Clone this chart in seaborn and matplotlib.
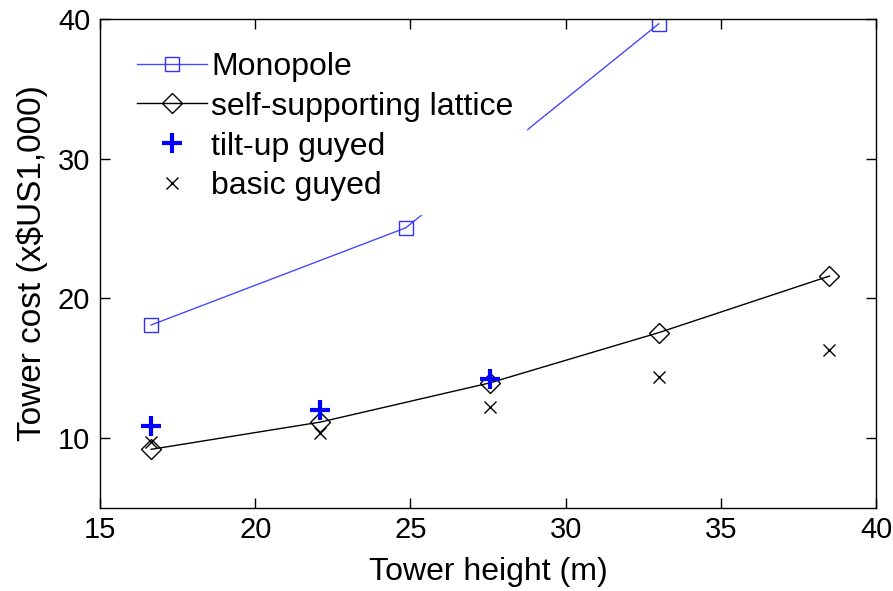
import numpy as np
import pandas as pd
import seaborn as sns
import matplotlib.pyplot as plt
from matplotlib.lines import Line2D

plt.rcParams['font.family'] = ['Liberation Sans', 'DejaVu Sans']

# data
mono_h = [16.65, 24.85, 33.0]
mono_cost = [18.1, 25.05, 39.65]
lattice_h = [16.65, 22.1, 27.55, 33.0, 38.5]
lattice_cost = [9.2, 11.15, 13.95, 17.55, 21.6]
tilt_h = [16.65, 22.1, 27.55]
tilt_cost = [10.85, 12.05, 14.2]
basic_h = [16.65, 22.1, 27.55, 33.0, 38.5]
basic_cost = [9.7, 10.35, 12.2, 14.4, 16.3]

blue_line = '#4848ff'

fig = plt.figure(figsize=(8.93, 5.91), dpi=100)
ax = fig.add_axes([0.112, 0.1404, 0.869, 0.8276])

sns.lineplot(x=mono_h, y=mono_cost, ax=ax, color=blue_line, lw=1,
             marker='s', ms=10, mfc='none', mec='#3030ff', mew=1)
sns.lineplot(x=lattice_h, y=lattice_cost, ax=ax, color='black', lw=1,
             marker='D', ms=10, mfc='none', mec='black', mew=1)
ax.plot(tilt_h, tilt_cost, ls='none', marker='+', ms=14, mew=3, color='#0000ff')
ax.plot(basic_h, basic_cost, ls='none', marker='x', ms=9, mew=1, color='black')

ax.set_xlim(15, 40)
ax.set_ylim(5, 40)
ax.set_xticks([15, 20, 25, 30, 35, 40])
ax.set_yticks([10, 20, 30, 40])
ax.tick_params(direction='in', length=7, width=1, top=True, right=True,
               labelsize=21)
ax.tick_params(axis='y', pad=7)
ax.tick_params(axis='x', pad=6)
for s in ax.spines.values():
    s.set_linewidth(1)
ax.set_xlabel('Tower height (m)', fontsize=23, labelpad=9)
ax.set_ylabel('Tower cost (x$US1,000)', fontsize=24, labelpad=7)

handles = [
    Line2D([], [], color=blue_line, lw=1, marker='s', ms=10, mfc='none', mec='#3030ff'),
    Line2D([], [], color='black', lw=1, marker='D', ms=10, mfc='none', mec='black'),
    Line2D([], [], ls='none', marker='+', ms=14, mew=3, color='#0000ff'),
    Line2D([], [], ls='none', marker='x', ms=9, mew=1, color='black'),
]
labels = ['Monopole', 'self-supporting lattice', 'tilt-up guyed', 'basic guyed']
leg = ax.legend(handles, labels, loc='upper left', bbox_to_anchor=(0.031, 0.959),
                fontsize=23, handlelength=2.2, handletextpad=0.12,
                labelspacing=0.31, frameon=True, framealpha=1,
                edgecolor='white', fancybox=False, borderpad=0.4,
                borderaxespad=0)

fig.savefig('out.png', dpi=100)
